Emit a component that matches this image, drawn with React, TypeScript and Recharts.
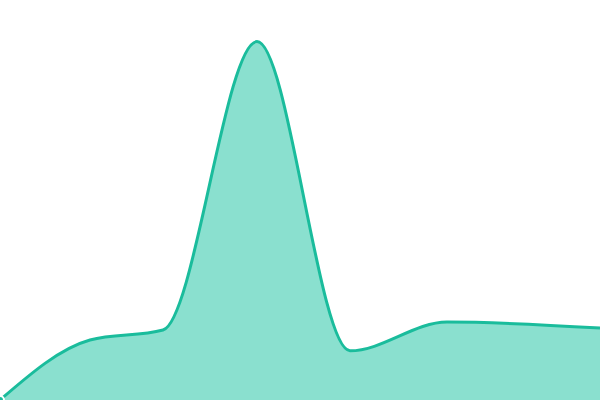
import { AreaChart, Area, XAxis, YAxis } from "recharts";

// x positions along the chart (0–600) and heights of the curve (0–100)
const xs = [0, 90, 163, 257, 350, 447, 600];
const values = [0, 15, 17.5, 89.6, 12.3, 19.5, 18];

const data = xs.map((x, i) => ({ x, v: values[i] }));

export default function App() {
  return (
    <div style={{ position: "fixed", top: 0, left: 0, width: 600, height: 400, background: "#fff" }}>
      <AreaChart width={600} height={400} data={data} margin={{ top: 0, right: 0, left: 0, bottom: 0 }}>
        <XAxis dataKey="x" type="number" domain={[0, 600]} hide />
        <YAxis domain={[0, 100]} hide />
        <Area
          type="monotone"
          dataKey="v"
          stroke="#1abc9c"
          strokeWidth={3}
          fill="#8ae0cf"
          fillOpacity={1}
          isAnimationActive={false}
        />
      </AreaChart>
    </div>
  );
}
